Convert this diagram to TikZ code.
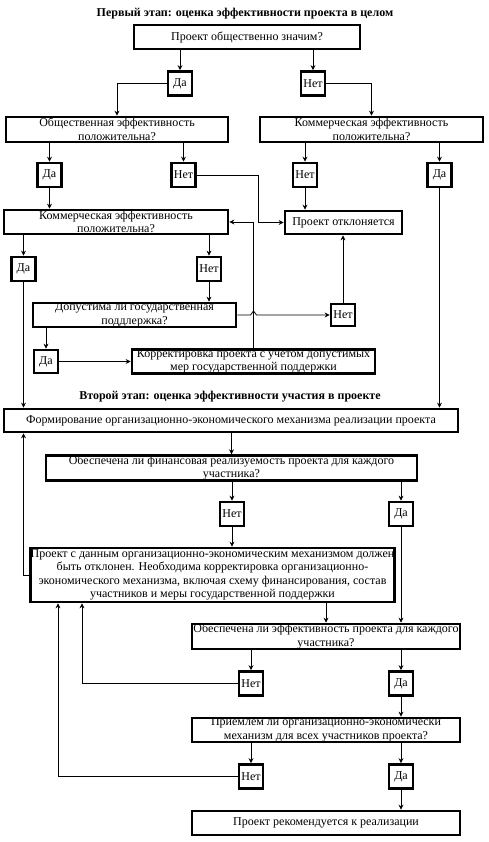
\documentclass[tikz,border=0pt]{standalone}
\usepackage{fontspec}
\setmainfont{Liberation Serif}
\usetikzlibrary{arrows.meta}
\begin{document}
\begin{tikzpicture}[x=1pt,y=-1pt,
  box/.style={draw,line width=2.7pt,inner sep=0pt,align=center,font=\fontsize{12}{13.5}\selectfont},
  yn/.style={box,minimum width=24pt,minimum height=24pt},
  arr/.style={-{Stealth[length=5pt,width=5pt]},line width=0.8pt},
  ln/.style={line width=0.8pt},
  ttl/.style={font=\fontsize{12}{14}\selectfont\bfseries,inner sep=0pt}]
\useasboundingbox (0,0) rectangle (489,842);

% titles
\node[ttl] (t1) at (245,14) {Первый этап: оценка эффективности проекта в целом};
\node[ttl] (t2) at (230,397) {Второй этап: оценка эффективности участия в проекте};

% first stage
\node[box,minimum width=226pt,minimum height=24pt] (q1) at (247,37) {Проект общественно значим?};
\node[yn] (da1) at (180,83.5) {Да};
\node[yn] (net1) at (313,83.5) {Нет};
\node[box,minimum width=222pt,minimum height=25pt] (q2) at (117,129.5) {Общественная эффективность\\положительна?};
\node[box,minimum width=223pt,minimum height=25pt] (q3) at (371.5,129.5) {Коммерческая эффективность\\положительна?};
\node[yn] (da2) at (49.5,175) {Да};
\node[yn] (net2) at (183.5,175) {Нет};
\node[yn] (net3) at (305,175) {Нет};
\node[yn] (da3) at (439.5,175) {Да};
\node[box,minimum width=224pt,minimum height=24pt] (q4) at (116,222) {Коммерческая эффективность\\положительна?};
\node[box,minimum width=117pt,minimum height=23pt] (rej) at (343.5,222.5) {Проект отклоняется};
\node[yn] (da4) at (23.5,269) {Да};
\node[yn] (net4) at (209,269) {Нет};
\node[box,minimum width=203pt,minimum height=22pt] (q5) at (134.5,315) {Допустима ли государственная\\поддлержка?};
\node[yn,minimum height=22pt] (net5) at (343,315) {Нет};
\node[yn,minimum height=23pt] (da5) at (46,361.5) {Да};
\node[box,minimum width=243pt,minimum height=23pt] (corr) at (253.5,361.5) {Корректировка проекта с учетом допустимых\\мер государственной поддержки};

% second stage
\node[box,minimum width=454pt,minimum height=23pt] (form) at (231,420.5) {Формирование организационно-экономического механизма реализации проекта};
\node[box,minimum width=371pt,minimum height=24pt] (q6) at (231.5,468) {Обеспечена ли финансовая реализуемость проекта для каждого\\участника?};
\node[yn] (net6) at (232,514) {Нет};
\node[yn] (da6) at (401,514) {Да};
\node[box,minimum width=359pt,minimum height=54pt] (big) at (212.5,575) {Проект с данным организационно-экономическим механизмом должен\\быть отклонен. Необходима корректировка организационно-\\экономического механизма, включая схему финансирования, состав\\участников и меры государственной поддержки};
\node[box,minimum width=268pt,minimum height=25pt] (q7) at (326,636.5) {Обеспечена ли эффективность проекта для каждого\\участника?};
\node[yn] (net7) at (251,683.5) {Нет};
\node[yn] (da7) at (401,683.5) {Да};
\node[box,minimum width=268pt,minimum height=24pt] (q8) at (326,730) {Приемлем ли организационно-экономически\\механизм для всех участников проекта?};
\node[yn] (net8) at (251,776.5) {Нет};
\node[yn] (da8) at (401,776.5) {Да};
\node[box,minimum width=268pt,minimum height=24pt] (fin) at (326,823) {Проект рекомендуется к реализации};

\coordinate (c1) at (258,175);
\coordinate (c2) at (82,683.5);
\coordinate (c3) at (58,776.5);

% connectors, first stage
\draw[arr] (da1 |- q1.south) -- (da1.north);
\draw[arr] (net1 |- q1.south) -- (net1.north);
\draw[arr] (da1.west) -| (q2.north);
\draw[arr] (net1.east) -| (q3.north);
\draw[arr] (da2 |- q2.south) -- (da2.north);
\draw[arr] (net2 |- q2.south) -- (net2.north);
\draw[arr] (net3 |- q3.south) -- (net3.north);
\draw[arr] (da3 |- q3.south) -- (da3.north);
\draw[arr] (da2.south) -- (da2 |- q4.north);
\draw[arr] (net2.east) -- (c1) |- (rej.west);
\draw[arr] (net3.south) -- (net3 |- rej.north);
\draw[arr] (da3.south) -- (da3 |- form.north);
\draw[arr] (da4 |- q4.south) -- (da4.north);
\draw[arr] (net4 |- q4.south) -- (net4.north);
\draw[arr] (corr.north) |- (q4.east);
\draw[arr] (net4.south) -- (net4 |- q5.north);
\draw[arr] (q5.east) -- ([xshift=-3pt]corr.north |- q5.east) -- ++(3,-4) -- ++(3,4) -- (net5.west);
\draw[arr] (net5.north) -- (net5 |- rej.south);
\draw[arr] (da5 |- q5.south) -- (da5.north);
\draw[arr] (da5.east) -- (corr.west);
\draw[arr] (da4.south) -- (da4 |- form.north);

% connectors, second stage
\draw[arr] (q6 |- form.south) -- (q6.north);
\draw[arr] (net6 |- q6.south) -- (net6.north);
\draw[arr] (da6 |- q6.south) -- (da6.north);
\draw[arr] (net6.south) -- (net6 |- big.north);
\draw[arr] (big.west) -| (da4 |- form.south);
\draw[arr] (da6.south) -- (da6 |- q7.north);
\draw[arr] (q7 |- big.south) -- (q7.north);
\draw[arr] (net7 |- q7.south) -- (net7.north);
\draw[arr] (da7 |- q7.south) -- (da7.north);
\draw[arr] (net7.west) -- (c2) -- (c2 |- big.south);
\draw[arr] (da7.south) -- (da7 |- q8.north);
\draw[arr] (net8 |- q8.south) -- (net8.north);
\draw[arr] (da8 |- q8.south) -- (da8.north);
\draw[arr] (net8.west) -- (c3) -- (c3 |- big.south);
\draw[arr] (da8.south) -- (da8 |- fin.north);
\end{tikzpicture}
\end{document}
